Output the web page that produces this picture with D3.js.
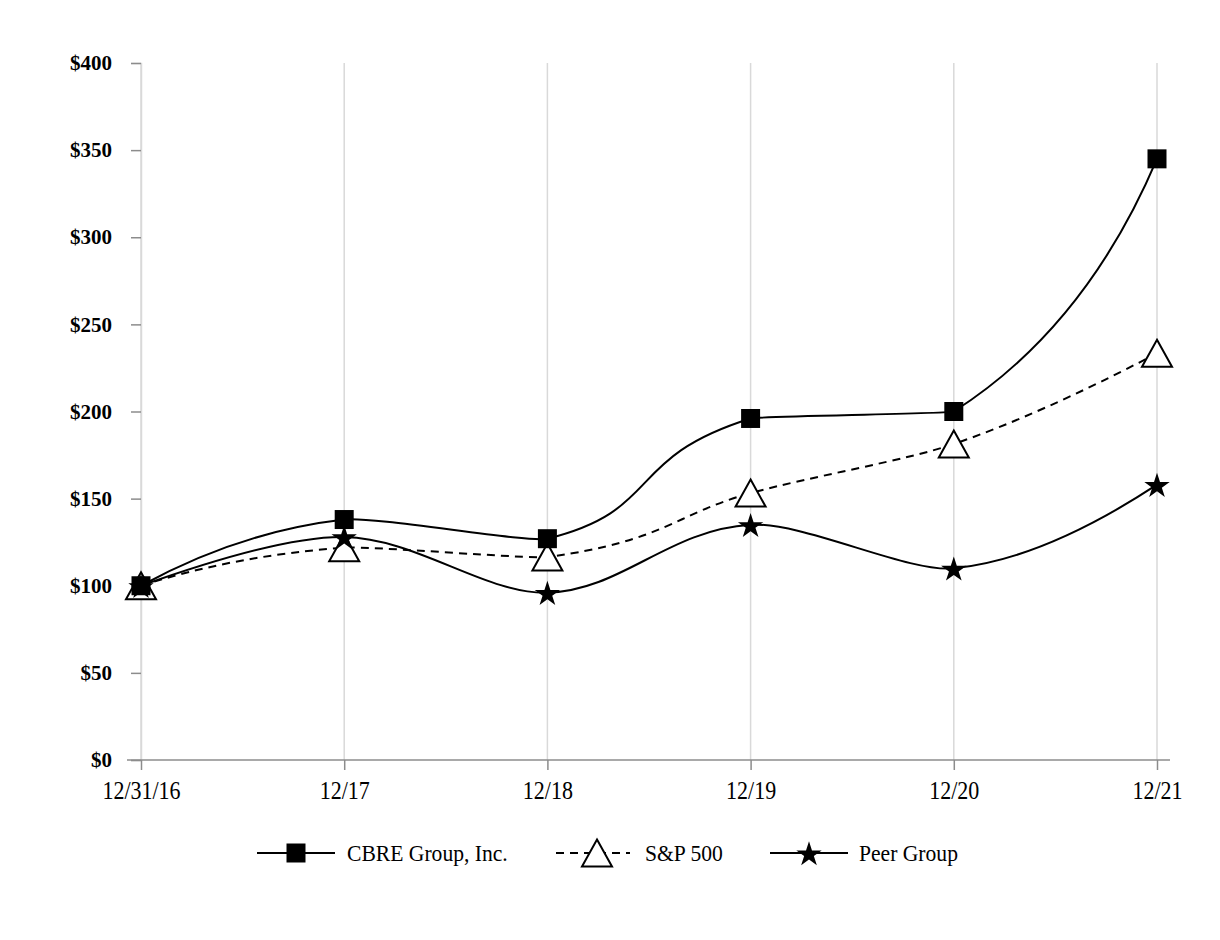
<!DOCTYPE html>
<html><head><meta charset="utf-8">
<script src="https://cdn.jsdelivr.net/npm/d3@7"></script>
<style>body{margin:0;background:#fff}svg{display:block}</style>
</head><body>
<script>
const categories = ["12/31/16","12/17","12/18","12/19","12/20","12/21"];
const cbre = [100, 138, 127, 196, 200, 345];
const sp500 = [100, 121.83, 116.49, 153.17, 181.35, 233.41];
const peer = [100, 128, 96, 135, 110, 158];
const yTicks = [0,50,100,150,200,250,300,350,400];
const seriesNames = ["CBRE Group, Inc.","S&P 500","Peer Group"];

const W=1220,H=940;
const svg=d3.select("body").append("svg").attr("width",W).attr("height",H);
const x=d3.scalePoint().domain(categories).range([141,1157]);
const y=d3.scaleLinear().domain([0,400]).range([760,63]);
const font="'Liberation Serif','Times New Roman',serif";

// gridlines
svg.append("g").selectAll("line").data(categories).join("line")
  .attr("x1",d=>x(d)).attr("x2",d=>x(d)).attr("y1",y(400)).attr("y2",y(0))
  .attr("stroke","#d9d9d9").attr("stroke-width",1.5);

// y axis
const ya=svg.append("g").attr("transform","translate(141,0)")
  .call(d3.axisLeft(y).tickValues(yTicks).tickSize(10).tickPadding(19).tickFormat(d=>"$"+d));
ya.select(".domain").attr("stroke","#d9d9d9").attr("stroke-width",1.5);
ya.selectAll(".tick line").attr("stroke","#8c8c8c").attr("stroke-width",1.5);
ya.selectAll("text").attr("font-family",font).attr("font-size",21).attr("font-weight","bold").attr("fill","#000");

// x axis
const xa=svg.append("g").attr("transform","translate(0,760)")
  .call(d3.axisBottom(x).tickSize(10).tickPadding(11).tickSizeOuter(0));
xa.select(".domain").attr("d","M127,0H1170").attr("stroke","#8c8c8c").attr("stroke-width",1.5);
xa.selectAll(".tick line").attr("stroke","#8c8c8c").attr("stroke-width",1.5);
xa.selectAll("text").attr("font-family",font).attr("font-size",25).attr("fill","#000")
  .attr("transform","scale(0.88,1)");

// Excel-like smoothed line: tangent parallel to neighbour span, arms weighted by
// adjacent segment lengths measured in data units.
function smoothPath(vals){
  const pts=vals.map((v,i)=>[x(categories[i]),y(v)]);
  const n=pts.length, tau=1/3;
  const dist=(i,j)=>Math.hypot(j-i, vals[j]-vals[i]);
  const cin=[],cout=[];
  for(let i=1;i<n-1;i++){
    const dp=dist(i-1,i), dn=dist(i,i+1);
    const sx=pts[i+1][0]-pts[i-1][0], sy=pts[i+1][1]-pts[i-1][1];
    const fi=tau*dp/(dp+dn), fo=tau*dn/(dp+dn);
    cin[i]=[pts[i][0]-sx*fi, pts[i][1]-sy*fi];
    cout[i]=[pts[i][0]+sx*fo, pts[i][1]+sy*fo];
  }
  const p=d3.path();
  p.moveTo(pts[0][0],pts[0][1]);
  for(let i=0;i<n-1;i++){
    const a=pts[i], b=pts[i+1];
    let c1,c2;
    if(n===2){c1=a;c2=b;}
    else if(i===0){const q=cin[1];c1=[a[0]+2/3*(q[0]-a[0]),a[1]+2/3*(q[1]-a[1])];c2=[b[0]+2/3*(q[0]-b[0]),b[1]+2/3*(q[1]-b[1])];}
    else if(i===n-2){const q=cout[n-2];c1=[a[0]+2/3*(q[0]-a[0]),a[1]+2/3*(q[1]-a[1])];c2=[b[0]+2/3*(q[0]-b[0]),b[1]+2/3*(q[1]-b[1])];}
    else {c1=cout[i];c2=cin[i+1];}
    p.bezierCurveTo(c1[0],c1[1],c2[0],c2[1],b[0],b[1]);
  }
  return p.toString();
}

function squarePath(s){const h=s/2;return `M${-h},${-h}H${h}V${h}H${-h}Z`;}
function triPath(w,h){return `M0,${-h/2}L${w/2},${h/2}L${-w/2},${h/2}Z`;}
const starPath=d3.symbol().type(d3.symbolStar).size(200)();

const series=[
  {name:seriesNames[0],vals:cbre,dash:null,marker:"square"},
  {name:seriesNames[1],vals:sp500,dash:"8,6",marker:"tri"},
  {name:seriesNames[2],vals:peer,dash:null,marker:"star"}
];

function drawMarker(g,type){
  if(type==="square") g.append("path").attr("d",squarePath(19)).attr("fill","#000");
  else if(type==="tri") g.append("path").attr("d",triPath(30,27)).attr("fill","#fff").attr("stroke","#000").attr("stroke-width",2);
  else g.append("path").attr("d",starPath).attr("fill","#000").attr("transform","translate(0,1.5)");
}

series.forEach(s=>{
  svg.append("path").attr("d",smoothPath(s.vals)).attr("fill","none").attr("stroke","#000")
    .attr("stroke-width",2).attr("stroke-dasharray",s.dash);
});
[1,2,0].forEach(k=>{
  const s=series[k];
  s.vals.forEach((v,i)=>{
    const g=svg.append("g").attr("transform",`translate(${x(categories[i])},${y(v)})`);
    drawMarker(g,s.marker);
  });
});

// legend
const legendItems=[
  {x0:257,x1:335,mx:296,tx:347},
  {x0:556,x1:630,mx:597,tx:645},
  {x0:770,x1:848,mx:809,tx:859}
];
const ly=853;
series.forEach((s,k)=>{
  const L=legendItems[k];
  svg.append("line").attr("x1",L.x0).attr("x2",L.x1).attr("y1",ly).attr("y2",ly)
    .attr("stroke","#000").attr("stroke-width",2).attr("stroke-dasharray",s.dash);
  const g=svg.append("g").attr("transform",`translate(${L.mx},${ly})`);
  drawMarker(g,s.marker);
  svg.append("text").attr("transform",`translate(${L.tx},${ly}) scale(0.9,1)`).attr("dy","0.35em")
    .attr("font-family",font).attr("font-size",24).attr("fill","#000").text(s.name);
});
</script>
</body></html>
